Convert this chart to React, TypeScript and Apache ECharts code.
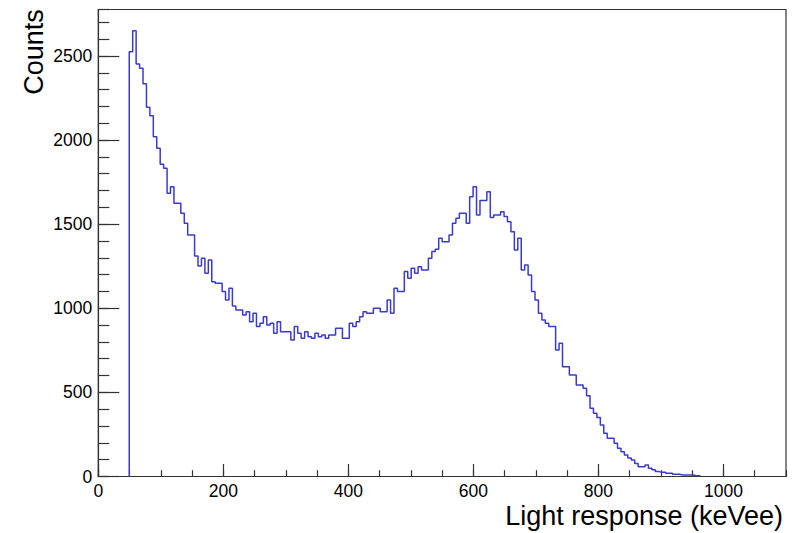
import React, { useEffect, useRef } from "react";
import * as echarts from "echarts";

// Histogram: 200 bins over 0–1100 (bin width 5.5); non-empty bins start at 49.5
const BIN_WIDTH = 5.5;
const FIRST_EDGE = 49.5;
const counts = [
  2525, 2649, 2452, 2427, 2334, 2195, 2145, 2020, 1951, 1856, 1832,
  1684, 1723, 1624, 1624, 1565, 1505, 1436, 1436, 1311, 1251,
  1297, 1208, 1287, 1158, 1149, 1149, 1099, 1049, 1119, 1014,
  990, 990, 960, 980, 920, 970, 891, 911, 950, 901,
  911, 851, 920, 861, 861, 861, 812, 891, 851, 822,
  861, 831, 822, 851, 831, 841, 822, 841, 841, 881,
  881, 822, 822, 911, 891, 920, 950, 980, 970, 970,
  1000, 1000, 980, 980, 1049, 970, 1119, 1099, 1099, 1218,
  1178, 1238, 1208, 1247, 1228, 1228, 1297, 1337, 1351, 1416,
  1396, 1396, 1436, 1505, 1535, 1565, 1565, 1505, 1663, 1723,
  1555, 1640, 1640, 1693, 1539, 1555, 1555, 1574, 1545, 1515,
  1455, 1347, 1416, 1228, 1257, 1198, 1099, 1049, 970, 930,
  911, 891, 891, 752, 792, 653, 653, 603, 603, 544,
  544, 524, 480, 405, 376, 350, 306, 257, 227, 227,
  197, 168, 147, 128, 110, 98, 78, 58, 58, 68,
  49, 40, 29, 25, 25, 19, 19, 13, 13, 9,
  9, 9, 9, 5, 5,
];

const X_MIN = 0;
const X_MAX = 1100;
const X_MAJOR = 200;
const X_MINOR = 50;
const Y_MIN = 0;
const Y_MAX = 2776;
const Y_MAJOR = 500;
const Y_MINOR = 100;

const X_TITLE = "Light response (keVee)";
const Y_TITLE = "Counts";

const LINE_COLOR = "#3a3acc";
const FRAME_COLOR = "#333333";
const FONT = "'Liberation Sans', Arial, Helvetica, sans-serif";

export default function App() {
  const ref = useRef<HTMLDivElement>(null);

  useEffect(() => {
    if (!ref.current) return;
    const chart = echarts.init(ref.current, undefined, { renderer: "svg" });

    const pts: [number, number][] = [[FIRST_EDGE, 0]];
    counts.forEach((c, i) => pts.push([FIRST_EDGE + i * BIN_WIDTH, c]));
    const lastEdge = FIRST_EDGE + counts.length * BIN_WIDTH;
    pts.push([lastEdge, counts[counts.length - 1]]);
    pts.push([lastEdge, 0]);

    const labelStyle = {
      fontFamily: FONT,
      fontSize: 17.5,
      color: "#000",
      formatter: (v: number) => String(v),
    };

    chart.setOption({
      animation: false,
      backgroundColor: "#ffffff",
      grid: {
        left: 98.3,
        right: 15,
        top: 9.5,
        bottom: 56.5,
        show: true,
        borderColor: FRAME_COLOR,
        borderWidth: 1.2,
        backgroundColor: "transparent",
      },
      xAxis: [
        {
          type: "value",
          position: "bottom",
          min: X_MIN,
          max: X_MAX,
          interval: X_MAJOR,
          axisLine: { show: true, onZero: false, lineStyle: { color: FRAME_COLOR, width: 1.2 } },
          axisTick: { show: true, inside: true, length: 12.5, lineStyle: { color: FRAME_COLOR, width: 1.2 } },
          axisLabel: { ...labelStyle, margin: 5, showMaxLabel: false },
          splitLine: { show: false },
        },
        {
          type: "value",
          position: "bottom",
          min: X_MIN,
          max: X_MAX,
          interval: X_MINOR,
          axisLine: { show: false },
          axisTick: { show: true, inside: true, length: 6.3, lineStyle: { color: FRAME_COLOR, width: 1.2 } },
          axisLabel: { show: false },
          splitLine: { show: false },
        },
      ],
      yAxis: [
        {
          type: "value",
          position: "left",
          min: Y_MIN,
          max: Y_MAX,
          interval: Y_MAJOR,
          axisLine: { show: true, onZero: false, lineStyle: { color: FRAME_COLOR, width: 1.2 } },
          axisTick: { show: true, inside: true, length: 21, lineStyle: { color: FRAME_COLOR, width: 1.2 } },
          axisLabel: { ...labelStyle, margin: 6, showMaxLabel: false },
          splitLine: { show: false },
        },
        {
          type: "value",
          position: "left",
          min: Y_MIN,
          max: Y_MAX,
          interval: Y_MINOR,
          axisLine: { show: false },
          axisTick: { show: true, inside: true, length: 11, lineStyle: { color: FRAME_COLOR, width: 1.2 } },
          axisLabel: { show: false },
          splitLine: { show: false },
        },
      ],
      graphic: [
        {
          type: "text",
          x: 783,
          y: 516,
          style: {
            text: X_TITLE,
            fontFamily: FONT,
            fontSize: 27,
            fill: "#000",
            align: "right",
            verticalAlign: "middle",
          },
        },
        {
          type: "text",
          x: 33.5,
          y: 9.3,
          rotation: Math.PI / 2,
          style: {
            text: Y_TITLE,
            fontFamily: FONT,
            fontSize: 27,
            fill: "#000",
            align: "right",
            verticalAlign: "middle",
          },
        },
      ],
      series: [
        {
          type: "line",
          xAxisIndex: 0,
          yAxisIndex: 0,
          step: "end",
          data: pts,
          symbol: "none",
          showSymbol: false,
          lineStyle: { color: LINE_COLOR, width: 1.5 },
          silent: true,
        },
      ],
    });

    return () => chart.dispose();
  }, []);

  return (
    <div
      ref={ref}
      style={{ position: "fixed", left: 0, top: 0, width: 801, height: 533, background: "#fff" }}
    />
  );
}
